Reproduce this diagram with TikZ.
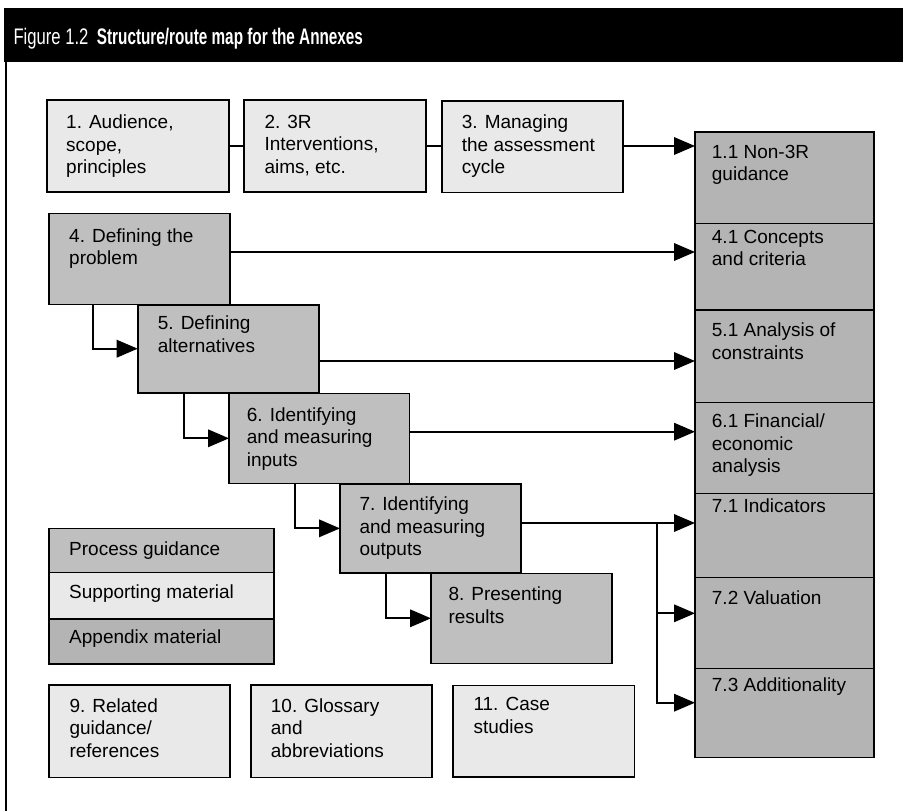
\documentclass[tikz,border=0pt]{standalone}
\usepackage{fontspec}
\setmainfont{Liberation Sans}
\newfontfamily\titlelight[FakeStretch=0.74]{Liberation Sans}
\newfontfamily\titlebold[FakeStretch=0.68]{Liberation Sans Bold}
\usetikzlibrary{arrows.meta}

\definecolor{supportfill}{HTML}{E9E9E9}
\definecolor{processfill}{HTML}{BFBFBF}
\definecolor{appendixfill}{HTML}{B4B4B4}

% a box drawn from its top-left corner (#3,#4) to its bottom-right corner (#5,#6)
\newcommand\mapbox[6]{%
  \node[#1, anchor=north west, minimum width={(#5-#3)*1pt},
        minimum height={(#6-#4)*1pt}] (#2) at (#3,#4) {};}
% box caption, placed by the top-left of its first line
\newcommand\maptext[4]{%
  \node[boxtext] (#1) at (#2,#3) {#4};}

\tikzset{
  mapbase/.style={draw=black, line width=1.6pt, inner sep=0pt, outer sep=0pt, rectangle},
  supportbox/.style={mapbase, fill=supportfill},
  processbox/.style={mapbase, fill=processfill},
  appendixbox/.style={mapbase, fill=appendixfill},
  boxtext/.style={anchor=north west, inner sep=0pt, align=left,
    font=\fontsize{19}{22.5}\selectfont},
  link/.style={line width=1.9pt},
  arr/.style={line width=1.9pt, -{Triangle[length=21pt,width=17.5pt]}},
}

\begin{document}
\begin{tikzpicture}[x=1pt, y={(0pt,-1pt)}]
\useasboundingbox (0,0) rectangle (903,811);

% heading bar and frame
\fill[black] (4,8) rectangle (903,62);
\draw[line width=1.5pt] (6,62) -- (6,811);
\node[anchor=base west, inner sep=0pt, text=white,
  font=\titlelight\fontsize{22.5}{26}\selectfont] (fignum) at (13.3,44) {Figure 1.2};
\node[anchor=base west, inner sep=0pt, text=white,
  font=\titlebold\fontsize{22.5}{26}\selectfont] (figtitle) at (96.7,44)
  {Structure/route map for the Annexes};

% supporting material, top row
\mapbox{supportbox}{b1}{46.7}{100}{229}{192}
\mapbox{supportbox}{b2}{244}{100}{425.7}{192}
\mapbox{supportbox}{b3}{441.7}{100.7}{622.7}{192.3}
\maptext{t1}{66}{115}{1. Audience,\\scope,\\principles}
\maptext{t2}{264.3}{115}{2. 3R\\Interventions,\\aims, etc.}
\maptext{t3}{461.7}{115}{3. Managing\\the assessment\\cycle}

% process steps
\mapbox{processbox}{b4}{49}{213.3}{230}{304.3}
\mapbox{processbox}{b5}{137.7}{304.7}{318.7}{392.7}
\mapbox{processbox}{b6}{229}{393.3}{409.3}{483.3}
\mapbox{processbox}{b7}{340}{484}{520.7}{572.7}
\mapbox{processbox}{b8}{431}{573.3}{611.7}{663.3}
\maptext{t4}{69}{228.3}{4. Defining the\\problem}
\maptext{t5}{157.7}{316}{5. Defining\\alternatives}
\maptext{t6}{246.7}{407.3}{6. Identifying\\and measuring\\inputs}
\maptext{t7}{359.3}{496.7}{7. Identifying\\and measuring\\outputs}
\maptext{t8}{448.3}{586.7}{8. Presenting\\results}

% appendix column
\mapbox{appendixbox}{r11}{695}{131.7}{874}{223.3}
\mapbox{appendixbox}{r41}{695}{223.3}{874}{310}
\mapbox{appendixbox}{r51}{695}{310}{874}{402.3}
\mapbox{appendixbox}{r61}{695}{402.3}{874}{493.3}
\mapbox{appendixbox}{r71}{695}{493.3}{874}{577.3}
\mapbox{appendixbox}{r72}{695}{577.3}{874}{668.3}
\mapbox{appendixbox}{r73}{695}{668.3}{874}{757.3}
\maptext{u11}{711.7}{145}{1.1 Non-3R\\guidance}
\maptext{u41}{711.7}{230}{4.1 Concepts\\and criteria}
\maptext{u51}{711.7}{323}{5.1 Analysis of\\constraints}
\maptext{u61}{711.7}{414}{6.1 Financial/\\economic\\analysis}
\maptext{u71}{711.7}{499}{7.1 Indicators}
\maptext{u72}{711.7}{590.7}{7.2 Valuation}
\maptext{u73}{711.7}{678}{7.3 Additionality}

% key
\mapbox{processbox}{k1}{49}{528.3}{274}{572.5}
\mapbox{supportbox}{k2}{49}{572.5}{274}{619}
\mapbox{appendixbox}{k3}{49}{619}{274}{664}
\maptext{kt1}{69}{541.7}{Process guidance}
\maptext{kt2}{69}{585}{Supporting material}
\maptext{kt3}{69}{629.3}{Appendix material}

% supporting material, bottom row
\mapbox{supportbox}{b9}{49}{685}{230}{777.3}
\mapbox{supportbox}{b10}{251}{685}{432}{777.3}
\mapbox{supportbox}{b11}{452.7}{685.3}{634.3}{776.7}
\maptext{t9}{69.3}{698.3}{9. Related\\guidance/\\references}
\maptext{t10}{270.7}{698.3}{10. Glossary\\and\\abbreviations}
\maptext{t11}{473.3}{697.3}{11. Case\\studies}

% links along the top row
\draw[link] (b1.east |- 0,146) -- (b2.west |- 0,146);
\draw[link] (b2.east |- 0,146) -- (b3.west |- 0,146);
\draw[arr] (b3.east |- 0,146) -- (r11.west |- 0,146);

% process steps to their annexes
\draw[arr] (b4.east |- 0,252) -- (r41.west |- 0,252);
\draw[arr] (b5.east |- 0,361) -- (r51.west |- 0,361);
\draw[arr] (b6.east |- 0,431.7) -- (r61.west |- 0,431.7);
\draw[arr] (b7.east |- 0,523) -- (r71.west |- 0,523);
\coordinate (fork) at (657.3,523);
\draw[arr] (fork) |- (r72.west |- 0,613.3);
\draw[arr] (fork) |- (r73.west |- 0,702.7);

% step to step
\draw[arr] (b4.south -| 92.7,0) |- (b5.west);
\draw[arr] (b5.south -| 184,0) |- (b6.west);
\draw[arr] (b6.south -| 295,0) |- (b7.west);
\draw[arr] (b7.south -| 386,0) |- (b8.west);
\end{tikzpicture}
\end{document}
